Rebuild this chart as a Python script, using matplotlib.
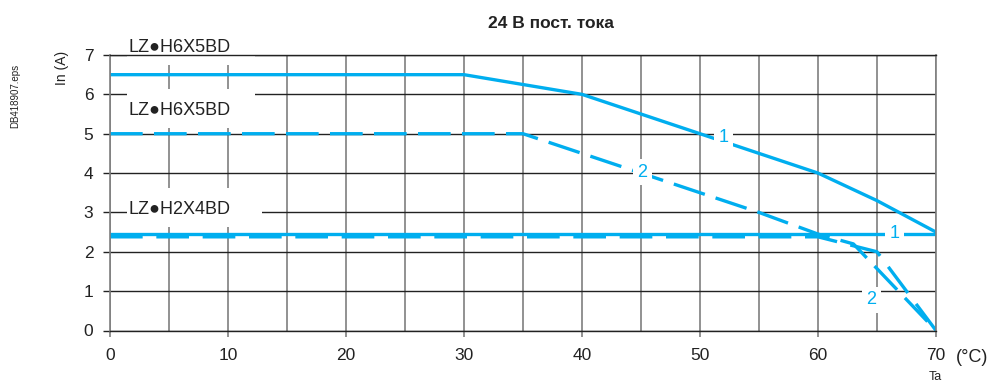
import matplotlib
matplotlib.use('Agg')
import matplotlib.pyplot as plt
from matplotlib.patches import Rectangle

plt.rcParams['font.family'] = ['Liberation Sans', 'DejaVu Sans']

# данные (Ta, °C -> In, A)
x_h6_solid = [0, 30, 40, 50, 60, 65, 70]
y_h6_solid = [6.5, 6.5, 6.0, 5.0, 4.0, 3.3, 2.5]

x_h6_dash = [0, 35, 45, 55, 60, 63, 70]
y_h6_dash = [5.0, 5.0, 4.0, 3.0, 2.45, 2.2, 0.0]

x_h2_solid = [0, 70]
y_h2_solid = [2.46, 2.46]

x_h2_dash = [0, 60, 65, 70]
y_h2_dash = [2.38, 2.38, 2.0, 0.0]

model_labels = ['LZ●H6X5BD', 'LZ●H6X5BD', 'LZ●H2X4BD']
model_label_y = [7.2, 5.6, 3.08]

curve_tags = ['1', '2', '1', '2']
curve_tag_x = [52.0, 45.1, 66.5, 64.5]
curve_tag_y = [4.9, 4.02, 2.46, 0.78]

xticks = [0, 10, 20, 30, 40, 50, 60, 70]
yticks = [0, 1, 2, 3, 4, 5, 6, 7]

blue = '#00aeef'
dark = '#222222'
gray = '#7f7f7f'

fig = plt.figure(figsize=(9.93, 3.85), dpi=100)
ax = fig.add_axes([110 / 993, 1 - 330.5 / 385, 826 / 993, 275.5 / 385])
ax.set_xlim(0, 70)
ax.set_ylim(0, 7)
ax.set_axisbelow(True)

# сетка
ax.set_xticks(xticks)
ax.set_xticks([5, 15, 25, 35, 45, 55, 65], minor=True)
ax.set_yticks(yticks)
ax.xaxis.grid(True, which='both', color=gray, lw=1.2)
ax.yaxis.grid(True, color=dark, lw=1.0)
for s in ['left', 'right']:
    ax.spines[s].set_color(gray)
    ax.spines[s].set_linewidth(1.2)
for s in ['top', 'bottom']:
    ax.spines[s].set_color(dark)
    ax.spines[s].set_linewidth(1.0)

ax.tick_params(axis='y', length=5, width=1.0, color=dark, pad=7,
               labelsize=12.5, labelcolor=dark)
ax.tick_params(axis='x', which='major', length=4.5, width=1.2, color=gray,
               pad=8, labelsize=12.5, labelcolor=dark)
ax.tick_params(axis='x', which='minor', length=0)

# белые подложки под подписями моделей
for yb, w in [(6.75, 10.85), (5.14, 10.85), (2.62, 11.4)]:
    ax.add_patch(Rectangle((1.44, yb), w, 1.0, facecolor='white',
                           edgecolor='none', zorder=1, clip_on=False))

# кривые
ax.plot(x_h6_solid, y_h6_solid, color=blue, lw=2.4, zorder=2)
ax.plot(x_h6_dash, y_h6_dash, color=blue, lw=2.4, dashes=(9.8, 3.4), zorder=2)
ax.plot(x_h2_solid, y_h2_solid, color=blue, lw=2.4, zorder=2)
ax.plot(x_h2_dash, y_h2_dash, color=blue, lw=2.4, dashes=(9.8, 4.1), zorder=2)

for txt, yy in zip(model_labels, model_label_y):
    ax.text(1.53, yy, txt, fontsize=13, color=dark, ha='left', va='center',
            zorder=3, clip_on=False)

for txt, xx, yy in zip(curve_tags, curve_tag_x, curve_tag_y):
    ax.text(xx, yy, txt, fontsize=13, color=blue, ha='center', va='center',
            zorder=3, bbox=dict(boxstyle='square,pad=0.25', facecolor='white',
                                edgecolor='none'))

fig.text(551 / 993, 1 - 23 / 385, '24 В пост. тока', fontsize=12.5,
         fontweight='bold', color=dark, ha='center', va='center')
fig.text(62 / 993, 1 - 67.5 / 385, 'In (A)', fontsize=10, color=dark,
         rotation=90, ha='center', va='center')
fig.text(15.5 / 993, 1 - 96 / 385, 'DB418907.eps', fontsize=7, color=dark,
         rotation=90, ha='center', va='center')
fig.text(972 / 993, 1 - 357 / 385, '(°C)', fontsize=13, color=dark,
         ha='center', va='center')
fig.text(935 / 993, 1 - 377 / 385, 'Ta', fontsize=9, color=dark,
         ha='center', va='center')

fig.savefig('out.png', dpi=100)
